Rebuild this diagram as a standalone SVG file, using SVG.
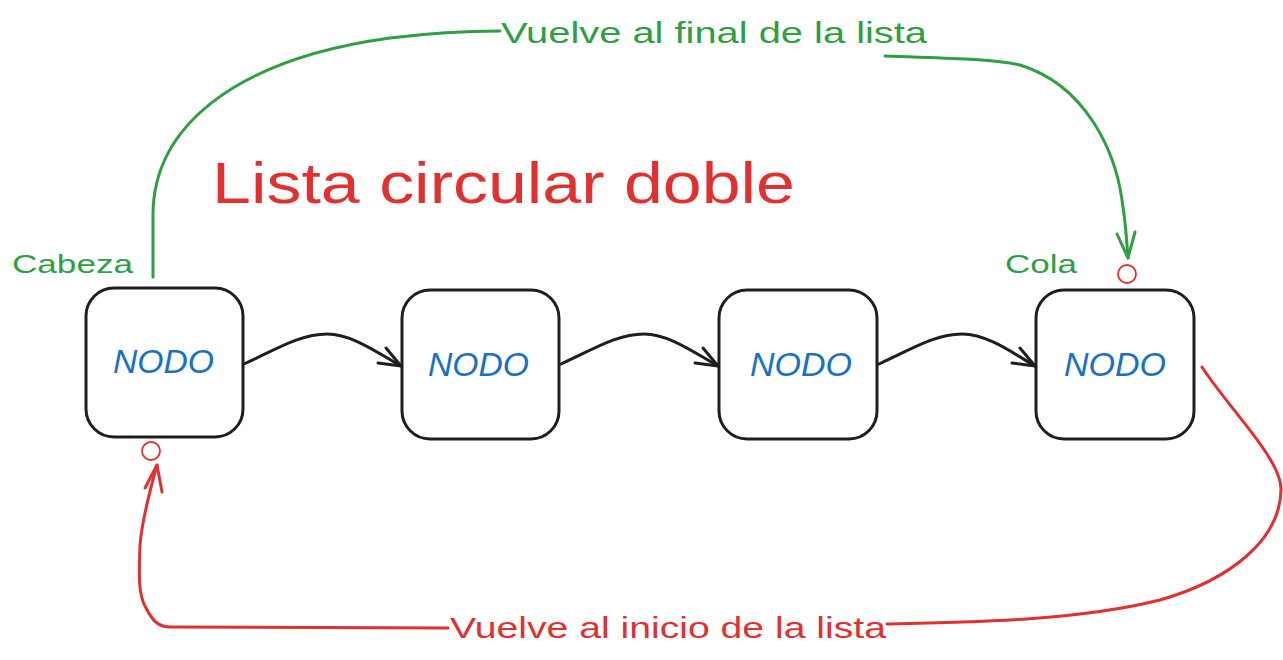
<svg xmlns="http://www.w3.org/2000/svg" width="1283" height="660" viewBox="0 0 1283 660">
<defs>
<style>
.box{fill:#ffffff;stroke:#1e1e1e;stroke-width:3;}
.nodo{font-family:"Liberation Sans",Arial,sans-serif;font-size:33px;font-style:italic;fill:#1971c2;}
.lblg{font-family:"Liberation Sans",Arial,sans-serif;fill:#2f9e44;}
.lblr{font-family:"Liberation Sans",Arial,sans-serif;fill:#e03131;}
.blk{fill:none;stroke:#1e1e1e;stroke-width:3;stroke-linecap:round;stroke-linejoin:round;}
.grn{fill:none;stroke:#2f9e44;stroke-width:3;stroke-linecap:round;stroke-linejoin:round;}
.red{fill:none;stroke:#e03131;stroke-width:3;stroke-linecap:round;stroke-linejoin:round;}
.dot{fill:none;stroke:#e03131;stroke-width:1.8;}
</style>
</defs>
<rect width="1283" height="660" fill="#ffffff"/>
<text x="212" y="203" class="lblr" font-size="57" textLength="583" lengthAdjust="spacingAndGlyphs">Lista circular doble</text>
<g id="node1">
<rect class="box" x="86" y="288" width="157" height="149" rx="28"/>
<text class="nodo" x="113" y="373" textLength="101" lengthAdjust="spacingAndGlyphs">NODO</text>
</g>
<g id="node2">
<rect class="box" x="402" y="290" width="157" height="149" rx="28"/>
<text class="nodo" x="428" y="376" textLength="101" lengthAdjust="spacingAndGlyphs">NODO</text>
</g>
<g id="node3">
<rect class="box" x="719" y="290" width="158" height="149" rx="28"/>
<text class="nodo" x="750" y="376" textLength="102" lengthAdjust="spacingAndGlyphs">NODO</text>
</g>
<g id="node4">
<rect class="box" x="1036" y="290" width="158" height="149" rx="28"/>
<text class="nodo" x="1064" y="376" textLength="102" lengthAdjust="spacingAndGlyphs">NODO</text>
</g>
<g id="labels">
<text class="lblg" x="12" y="273" font-size="25" textLength="121" lengthAdjust="spacingAndGlyphs">Cabeza</text>
<text class="lblg" x="1005" y="273" font-size="25" textLength="72" lengthAdjust="spacingAndGlyphs">Cola</text>
<circle class="dot" cx="1127" cy="274" r="9"/>
<circle class="dot" cx="151" cy="451" r="9"/>
</g>
<g id="connectors">
<path class="blk" d="M244 364 C275 350 300 334 327 334 C352 334 378 353 401 366"/>
<path class="blk" d="M386 348 L401 366 L378 363"/>
<path class="blk" d="M561 364 C592 350 617 334 644 334 C669 334 695 353 718 366"/>
<path class="blk" d="M703 348 L718 366 L695 363"/>
<path class="blk" d="M879 364 C910 350 935 334 962 334 C987 334 1013 353 1035 366"/>
<path class="blk" d="M1020 348 L1035 366 L1012 363"/>
<path class="grn" d="M153 277 L153 215 C153 130 230 60 390 38 C430 33 470 31 500 31"/>
<text class="lblg" x="501" y="43" font-size="30" textLength="426" lengthAdjust="spacingAndGlyphs">Vuelve al final de la lista</text>
<path class="grn" d="M885 56 C930 58 990 58 1020 65 C1085 85 1115 150 1122 200 C1126 225 1127 245 1128 258"/>
<path class="grn" d="M1117 234 L1128 258 L1135 232"/>
<path class="red" d="M1202 367 C1230 410 1282 460 1281 490 C1280 540 1230 580 1160 600 C1080 620 980 622 887 624"/>
<text class="lblr" x="450" y="638" font-size="30" textLength="436" lengthAdjust="spacingAndGlyphs">Vuelve al inicio de la lista</text>
<path class="red" d="M448 628 L170 627 C158 627 152 620 146 608 C138 595 139 575 140 545 C142 520 150 490 157 465"/>
<path class="red" d="M145 488 L157 465 L162 492"/>
</g>
</svg>
